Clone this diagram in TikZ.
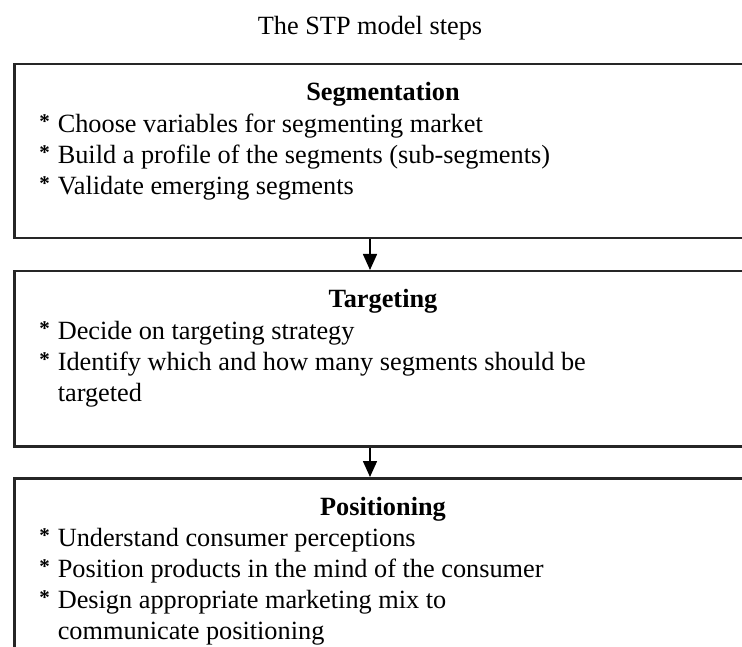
\documentclass[tikz,border=0pt]{standalone}
\usepackage{fontspec}
\setmainfont{Liberation Serif}
\usetikzlibrary{positioning}
\usetikzlibrary{arrows.meta}
\newcommand{\stpstar}{\makebox[13pt][c]{\raisebox{4.5pt}{\fontsize{21}{21}\selectfont\bfseries *}}}
\tikzset{step box/.style={rectangle,draw=black!85,line width=2.5pt,minimum width=780pt,inner sep=0pt,anchor=north west},
  step head/.style={font=\fontsize{26.3}{31}\selectfont\bfseries,anchor=base},
  step list/.style={align=left,anchor=north west,inner sep=0pt},
  flow/.style={-{Triangle[width=14pt,length=16pt]},line width=1.6pt},}

\begin{document}
\begin{tikzpicture}[x=1pt,y=-1pt,font=\fontsize{26.3}{31}\selectfont]
    \useasboundingbox (0,0) rectangle (742,647);
    \clip (0,0) rectangle (742,647);

    \node[anchor=base] (title) at (370,35) {The STP model steps};

    % segmentation
    \node[step box,minimum height=174pt] (seg) at (13,63) {};
    \node[step head] (seghead) at (383,101) {Segmentation};
    \node[step list] (seglist) at (38,114)
        {\stpstar{} Choose variables for segmenting market\\
         \stpstar{} Build a profile of the segments (sub-segments)\\
         \stpstar{} Validate emerging segments};

    % targeting
    \node[step box,minimum height=175pt] (targ) at (13,270) {};
    \node[step head] (targhead) at (383,307.5) {Targeting};
    \node[step list] (targlist) at (38,321)
        {\stpstar{} Decide on targeting strategy\\
         \stpstar{} Identify which and how many segments should be\\
         \phantom{\stpstar{}} targeted};

    % positioning
    \node[step box,minimum height=190pt] (pos) at (13,477) {};
    \node[step head] (poshead) at (383,515.5) {Positioning};
    \node[step list] (poslist) at (38,528)
        {\stpstar{} Understand consumer perceptions\\
         \stpstar{} Position products in the mind of the consumer\\
         \stpstar{} Design appropriate marketing mix to\\
         \phantom{\stpstar{}} communicate positioning};

    \draw[flow] (seg.south -| title) -- (targ.north -| title);
    \draw[flow] (targ.south -| title) -- (pos.north -| title);
\end{tikzpicture}
\end{document}
